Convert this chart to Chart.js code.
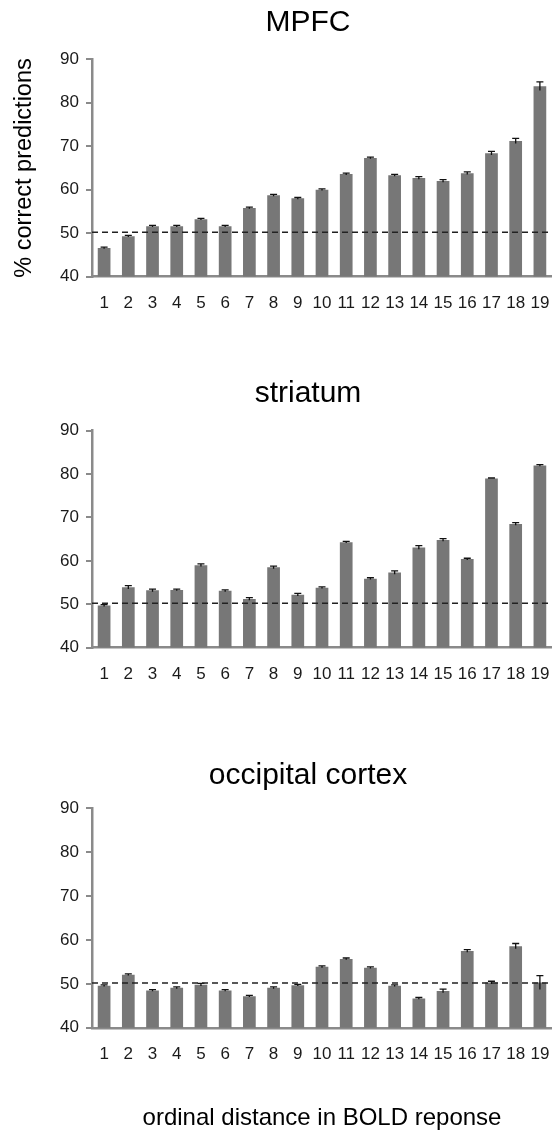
<!DOCTYPE html>
<html>
<head>
<meta charset="utf-8">
<script src="https://cdn.jsdelivr.net/npm/chart.js@4/dist/chart.umd.min.js"></script>
<style>
  html, body { margin: 0; padding: 0; background: #fff; overflow: hidden; }
  body { width: 552px; height: 1134px; position: relative; }
  canvas { position: absolute; left: 0; }
</style>
</head>
<body>
<canvas id="mpfc" width="616" height="330" style="top:0px"></canvas>
<canvas id="striatum" width="616" height="330" style="top:371px"></canvas>
<canvas id="occipital" width="616" height="381" style="top:753px"></canvas>
<script>
var distances = ["1", "2", "3", "4", "5", "6", "7", "8", "9", "10", "11", "12", "13", "14", "15", "16", "17", "18", "19"];
var yMin = 40;
var yMax = 90;
var yStep = 10;
var chanceLevel = 50.2;

var mpfcValues = [46.6, 49.3, 51.6, 51.6, 53.2, 51.6, 55.8, 58.7, 58.0, 60.0, 63.6, 67.3, 63.3, 62.7, 62.0, 63.8, 68.4, 71.2, 83.8];
var mpfcErrors = [0.2, 0.2, 0.2, 0.2, 0.2, 0.2, 0.2, 0.2, 0.2, 0.2, 0.2, 0.2, 0.2, 0.3, 0.3, 0.3, 0.4, 0.6, 1.0];

var striatumValues = [49.7, 53.9, 53.2, 53.3, 59.0, 53.1, 51.2, 58.5, 52.2, 53.8, 64.3, 55.9, 57.3, 63.1, 64.8, 60.4, 79.0, 68.5, 82.0];
var striatumErrors = [0.2, 0.4, 0.3, 0.2, 0.3, 0.2, 0.3, 0.3, 0.3, 0.2, 0.2, 0.2, 0.4, 0.4, 0.3, 0.2, 0.1, 0.3, 0.2];

var occipitalValues = [49.6, 52.1, 48.5, 49.1, 49.8, 48.5, 47.2, 49.1, 49.7, 53.9, 55.7, 53.7, 49.6, 46.7, 48.4, 57.5, 50.3, 58.6, 50.3];
var occipitalErrors = [0.2, 0.2, 0.2, 0.2, 0.3, 0.2, 0.2, 0.2, 0.2, 0.2, 0.2, 0.2, 0.2, 0.2, 0.4, 0.3, 0.3, 0.6, 1.6];

Chart.defaults.font.family = "'Liberation Sans', Arial, sans-serif";
Chart.defaults.color = "#1a1a1a";

var axisGrey = "#8a8a8a";

// error bars + dashed chance line, placed through the y scale
var extrasPlugin = {
    id: "extras",
    afterDatasetsDraw: (chart, args, opts) => {
        const ctx = chart.ctx;
        const y = chart.scales.y;
        const area = chart.chartArea;
        const vals = chart.data.datasets[0].data;
        const errs = opts.errors || [];
        ctx.save();
        ctx.strokeStyle = "#111";
        ctx.lineWidth = 1.3;
        chart.getDatasetMeta(0).data.forEach((bar, i) => {
            const top = y.getPixelForValue(vals[i] + errs[i]);
            const bot = y.getPixelForValue(vals[i] - errs[i]);
            ctx.beginPath();
            ctx.moveTo(bar.x, top);
            ctx.lineTo(bar.x, bot);
            ctx.moveTo(bar.x - 3.5, top);
            ctx.lineTo(bar.x + 3.5, top);
            ctx.stroke();
        });
        const cy = y.getPixelForValue(opts.chance);
        ctx.setLineDash([6, 4]);
        ctx.lineWidth = 1.5;
        ctx.strokeStyle = "#222";
        ctx.beginPath();
        ctx.moveTo(area.left, cy);
        ctx.lineTo(area.right, cy);
        ctx.stroke();
        ctx.restore();
    }
};

makeChart = (id, title, values, errors, p) => {
    return new Chart(document.getElementById(id), {
        type: "bar",
        data: {
            labels: distances,
            datasets: [{
                data: values,
                backgroundColor: "#777777",
                borderWidth: 0,
                barPercentage: 0.525,
                categoryPercentage: 1
            }]
        },
        plugins: [extrasPlugin],
        options: {
            responsive: false,
            devicePixelRatio: 1,
            animation: false,
            layout: { padding: 0 },
            plugins: {
                legend: { display: false },
                tooltip: { enabled: false },
                title: {
                    display: true,
                    text: title,
                    color: "#000",
                    font: { size: 30, weight: "normal", lineHeight: 1.2 },
                    padding: { top: p.titleTop, bottom: p.titleBottom }
                },
                extras: { errors: errors, chance: chanceLevel }
            },
            scales: {
                x: {
                    grid: { display: false, drawTicks: false },
                    border: { color: axisGrey, width: 2.5 },
                    ticks: {
                        font: { size: 17, lineHeight: 1.2 },
                        padding: p.xPad,
                        autoSkip: false,
                        maxRotation: 0
                    },
                    title: {
                        display: p.xTitle,
                        text: "ordinal distance in BOLD reponse",
                        color: "#000",
                        font: { size: 24 },
                        padding: { top: 23, bottom: 1.6 }
                    }
                },
                y: {
                    min: yMin,
                    max: yMax,
                    afterFit: s => { s.width = 92; },
                    grid: { drawOnChartArea: false, drawTicks: true, tickLength: 6, color: axisGrey, lineWidth: 2 },
                    border: { color: axisGrey, width: 2.5 },
                    ticks: { stepSize: yStep, font: { size: 17 }, padding: 7 },
                    title: {
                        display: p.yTitle,
                        text: "% correct predictions",
                        color: "#000",
                        font: { size: 23.5 },
                        padding: { top: 10, bottom: 0 }
                    }
                },
                // empty strip on the right so the title centres like the original figure
                pad: {
                    position: "right",
                    display: true,
                    afterFit: s => { s.width = 64; },
                    grid: { display: false },
                    border: { display: false },
                    ticks: { display: false }
                }
            }
        }
    });
}

makeChart("mpfc", "MPFC", mpfcValues, mpfcErrors, { titleTop: 4.5, titleBottom: 18.8, xPad: 16.5, xTitle: false, yTitle: true });
makeChart("striatum", "striatum", striatumValues, striatumErrors, { titleTop: 5, titleBottom: 18.7, xPad: 16.5, xTitle: false, yTitle: false });
makeChart("occipital", "occipital cortex", occipitalValues, occipitalErrors, { titleTop: 5, titleBottom: 14.3, xPad: 16.2, xTitle: true, yTitle: false });
</script>
</body>
</html>
